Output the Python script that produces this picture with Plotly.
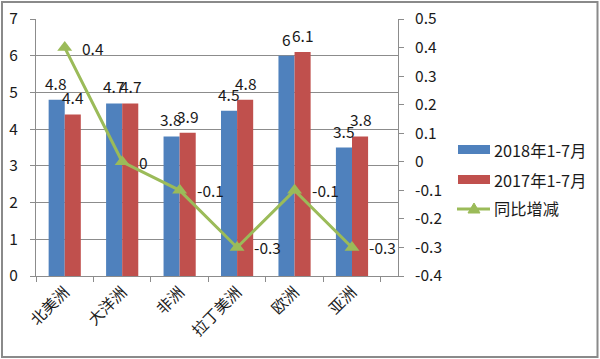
import plotly.graph_objects as go

categories = ["北美洲", "大洋洲", "非洲", "拉丁美洲", "欧洲", "亚洲"]
values_2018 = [4.8, 4.7, 3.8, 4.5, 6, 3.5]
values_2017 = [4.4, 4.7, 3.9, 4.8, 6.1, 3.8]
yoy_change = [0.4, 0, -0.1, -0.3, -0.1, -0.3]
series_names = ["2018年1-7月", "2017年1-7月", "同比增减"]
left_ticks = [0, 1, 2, 3, 4, 5, 6, 7]
right_tickvals = [-0.4, -0.3, -0.2, -0.1, 0, 0.1, 0.2, 0.3, 0.4, 0.5]
right_ticktext = ["-0.4", "-0.3", "-0.2", "-0.1", "0", "0.1", "0.2", "0.3", "0.4", "0.5"]

BLUE = "#4F81BD"
RED = "#C0504D"
GREEN = "#9BBB59"
FONT = "Noto Sans CJK SC"
FS = 15.5
TXT = "#1a1a1a"
AX = "#8c8c8c"

W, H = 600, 359
L, R, T, B = 36, 202, 19, 83
PW, PH = W - L - R, H - T - B


def px_x(px):
    return (px - L) / PW


def px_y(py):
    return 1 - (py - T) / PH


def fmt(v):
    return "%g" % v


fig = go.Figure()
fig.add_trace(go.Bar(x=categories, y=values_2018, name=series_names[0],
                     marker=dict(color=BLUE, line=dict(width=0)), showlegend=False))
fig.add_trace(go.Bar(x=categories, y=values_2017, name=series_names[1],
                     marker=dict(color=RED, line=dict(width=0)), showlegend=False))
fig.add_trace(go.Scatter(x=categories, y=yoy_change, name=series_names[2], yaxis="y2",
                         mode="lines+markers",
                         line=dict(color=GREEN, width=3),
                         marker=dict(symbol="triangle-up", size=13, color=GREEN),
                         showlegend=False))

annotations = []
half = 8.5
for c, v in zip(categories, values_2018):
    annotations.append(dict(x=c, y=v, xref="x", yref="y", text=fmt(v), showarrow=False,
                            xshift=-half, yshift=17, yanchor="middle",
                            font=dict(family=FONT, size=FS, color=TXT)))
for c, v in zip(categories, values_2017):
    annotations.append(dict(x=c, y=v, xref="x", yref="y", text=fmt(v), showarrow=False,
                            xshift=half, yshift=17, yanchor="middle",
                            font=dict(family=FONT, size=FS, color=TXT)))
for c, v in zip(categories, yoy_change):
    annotations.append(dict(x=c, y=v, xref="x", yref="y2", text=fmt(v), showarrow=False,
                            xanchor="left", xshift=15, yanchor="middle",
                            font=dict(family=FONT, size=FS, color=TXT)))

# custom legend (Excel style)
legend_y = [149.5, 179.5, 207.5]
for name, yy in zip(series_names, legend_y):
    annotations.append(dict(x=px_x(492), y=px_y(yy), xref="paper", yref="paper",
                            text=name, showarrow=False, xanchor="left", yanchor="middle",
                            font=dict(family=FONT, size=16.3, color=TXT)))

shapes = [
    dict(type="rect", xref="paper", yref="paper", x0=px_x(2), x1=px_x(597.5),
         y0=px_y(357), y1=px_y(2), line=dict(color="#8a8a8a", width=2), layer="above"),
    dict(type="rect", xref="paper", yref="paper", x0=px_x(458), x1=px_x(490),
         y0=px_y(154), y1=px_y(145), line=dict(width=0), fillcolor=BLUE),
    dict(type="rect", xref="paper", yref="paper", x0=px_x(458), x1=px_x(490),
         y0=px_y(184), y1=px_y(175), line=dict(width=0), fillcolor=RED),
    dict(type="line", xref="paper", yref="paper", x0=px_x(457), x1=px_x(490),
         y0=px_y(209), y1=px_y(209), line=dict(color=GREEN, width=3)),
    dict(type="path", xref="paper", yref="paper",
         path="M %f,%f L %f,%f L %f,%f Z" % (px_x(468), px_y(213), px_x(480), px_y(213),
                                             px_x(474), px_y(203)),
         fillcolor=GREEN, line=dict(color=GREEN, width=1)),
]

fig.update_layout(
    width=W, height=H,
    margin=dict(l=L, r=R, t=T, b=B, pad=0, autoexpand=False),
    paper_bgcolor="white", plot_bgcolor="white",
    barmode="group", bargap=0.44, bargroupgap=0,
    font=dict(family=FONT, size=FS, color=TXT),
    showlegend=False,
    xaxis=dict(type="category", automargin=False, showgrid=False, showline=True, linecolor=AX,
               linewidth=1, ticks="outside", tickson="boundaries", ticklen=5, tickcolor=AX,
               tickangle=-45, tickfont=dict(family=FONT, size=15.5, color=TXT)),
    yaxis=dict(range=[0, 7], tickvals=left_ticks, automargin=False, showgrid=True, gridcolor=AX,
               gridwidth=1, showline=True, linecolor=AX, linewidth=1, ticks="outside", ticklen=5,
               tickcolor=AX, zeroline=False, ticklabelstandoff=9,
               tickfont=dict(family=FONT, size=FS, color=TXT)),
    yaxis2=dict(range=[-0.4, 0.5], overlaying="y", side="right", tickvals=right_tickvals,
                ticktext=right_ticktext, automargin=False, showgrid=False, zeroline=False,
                showline=True, linecolor=AX, linewidth=1, ticks="outside", ticklen=5,
                tickcolor=AX, ticklabelstandoff=8,
                tickfont=dict(family=FONT, size=FS, color=TXT)),
    annotations=annotations,
    shapes=shapes,
)

fig.write_html("out.html", config={"displayModeBar": False, "staticPlot": True},
               post_script="document.body.style.margin='0';")
